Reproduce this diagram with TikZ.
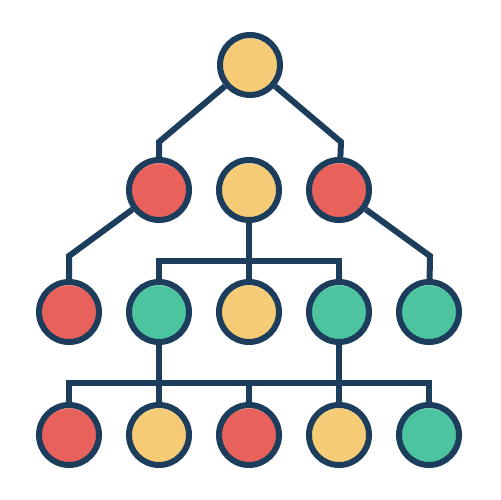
\documentclass[tikz,border=0pt]{standalone}
\usetikzlibrary{backgrounds}
\definecolor{navy}{HTML}{1D3D5C}
\definecolor{yel}{HTML}{F5CB76}
\definecolor{yelL}{HTML}{FBE0A4}
\definecolor{redc}{HTML}{E8625B}
\definecolor{redL}{HTML}{F39490}
\definecolor{grn}{HTML}{4DC4A0}
\definecolor{grnL}{HTML}{86E3C6}
\tikzset{
  x=1bp, y=-1bp,
  ball/.style n args={2}{circle, draw=navy, line width=6bp, minimum size=60bp, inner sep=0pt, fill=#2,
    path picture={\fill[#1] ([yshift=-4bp]path picture bounding box.center) circle (30bp);}},
  yb/.style={ball={yel}{yelL}},
  rb/.style={ball={redc}{redL}},
  gb/.style={ball={grn}{grnL}},
  wire/.style={draw=navy, line width=6bp}
}
\begin{document}
\begin{tikzpicture}
\useasboundingbox (0,0) rectangle (500,500);
\node[yb] (n1) at (250,65) {};
\node[rb] (n2a) at (159,190) {};
\node[yb] (n2b) at (249,190) {};
\node[rb] (n2c) at (339,190) {};
\node[rb] (n3a) at (69,312) {};
\node[gb] (n3b) at (159,312) {};
\node[yb] (n3c) at (249,312) {};
\node[gb] (n3d) at (339,312) {};
\node[gb] (n3e) at (429,312) {};
\node[rb] (n4a) at (69,435) {};
\node[yb] (n4b) at (159,435) {};
\node[rb] (n4c) at (249,435) {};
\node[yb] (n4d) at (339,435) {};
\node[gb] (n4e) at (429,435) {};
\coordinate (c1) at (159,142);
\coordinate (c2) at (341,142);
\coordinate (c3) at (69,256);
\coordinate (c4) at (430,256);
\coordinate (b1) at (249,261);
\coordinate (b2) at (249,383);
\begin{scope}[on background layer]
\draw[wire] (n1) -- (c1) -- (n2a);
\draw[wire] (n1) -- (c2) -- (n2c);
\draw[wire] (n2a) -- (c3) -- (n3a);
\draw[wire] (n2c) -- (c4) -- (n3e);
\draw[wire] (n2b) -- (b1);
\draw[wire] (n3b) -- (n3b |- b1) -- (n3d |- b1) -- (n3d);
\draw[wire] (b1) -- (n3c);
\draw[wire] (n3b) -- (n3b |- b2);
\draw[wire] (n3d) -- (n3d |- b2);
\draw[wire] (n4a) -- (n4a |- b2) -- (n4e |- b2) -- (n4e);
\draw[wire] (n4b |- b2) -- (n4b);
\draw[wire] (n4c |- b2) -- (n4c);
\draw[wire] (n4d |- b2) -- (n4d);
\end{scope}
\end{tikzpicture}
\end{document}
